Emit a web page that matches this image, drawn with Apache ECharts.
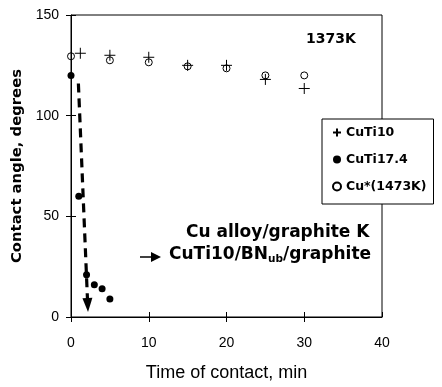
<!DOCTYPE html>
<html>
<head>
<meta charset="utf-8">
<script src="https://cdn.jsdelivr.net/npm/echarts@6/dist/echarts.min.js"></script>
<style>
html,body{margin:0;padding:0;background:#fff;}
#chart{width:442px;height:387px;}
</style>
</head>
<body>
<div id="chart"></div>
<script>
// ---- data ----
var cuti10X = [1.2, 5, 10, 15, 20, 25, 30];
var cuti10Y = [131, 130, 129, 125, 125, 118, 113.5];
var cuti174X = [0, 1, 2, 3, 4, 5];
var cuti174Y = [120, 60, 21, 16, 14, 9];
var cuX = [0, 5, 10, 15, 20, 25, 30];
var cuY = [129.5, 127.5, 126.5, 124.5, 123.5, 120, 120];
var arrowFrom = [0.95, 116];
var arrowTo = [2.15, 6];
var xTicks = [0, 10, 20, 30, 40];
var xOuterTicks = [0, 10, 20, 30];
var yTicks = [0, 50, 100, 150];
var seriesNames = ['CuTi10', 'CuTi17.4', 'Cu*(1473K)'];

function pairs(xs, ys){ return xs.map(function(x,i){ return [x, ys[i]]; }); }

var chart = echarts.init(document.getElementById('chart'), null, {renderer:'canvas'});
var tickFont = {fontFamily:'Liberation Sans, Arial, sans-serif', fontSize:14, color:'#000'};
var boldFont = 'DejaVu Sans, sans-serif';
var plusPath = 'path://M0,5L10,5M5,0L5,10';

var option = {
  animation:false,
  backgroundColor:'#fff',
  grid:{left:71, right:60, top:15, bottom:64, show:true, borderColor:'#000', borderWidth:1, backgroundColor:'transparent'},
  xAxis:[{
    type:'value', min:xTicks[0], max:xTicks[xTicks.length-1], interval:10,
    position:'bottom',
    axisLine:{show:true, onZero:false, lineStyle:{color:'#000', width:1}},
    axisTick:{show:true, inside:false, length:5, customValues:xOuterTicks, lineStyle:{color:'#000'}},
    axisLabel:Object.assign({margin:19}, tickFont),
    splitLine:{show:false},
    name:'Time of contact, min', nameLocation:'middle', nameGap:47,
    nameTextStyle:{fontFamily:'Liberation Sans, Arial, sans-serif', fontSize:18, color:'#000'}
  },{
    type:'value', min:xTicks[0], max:xTicks[xTicks.length-1], interval:10,
    position:'bottom',
    axisLine:{show:false}, axisLabel:{show:false}, splitLine:{show:false},
    axisTick:{show:true, inside:true, length:5, lineStyle:{color:'#000'}}
  }],
  yAxis:[{
    type:'value', min:yTicks[0], max:yTicks[yTicks.length-1], interval:50,
    position:'left',
    axisLine:{show:true, onZero:false, lineStyle:{color:'#000', width:1}},
    axisTick:{show:true, inside:false, length:5, lineStyle:{color:'#000'}},
    axisLabel:Object.assign({margin:12}, tickFont),
    splitLine:{show:false},
    name:'Contact angle, degrees', nameLocation:'middle', nameGap:44,
    nameTextStyle:{fontFamily:boldFont, fontWeight:'bold', fontSize:14.8, color:'#000'}
  },{
    type:'value', min:yTicks[0], max:yTicks[yTicks.length-1], interval:50,
    position:'left',
    axisLine:{show:false}, axisLabel:{show:false}, splitLine:{show:false},
    axisTick:{show:true, inside:true, length:5, lineStyle:{color:'#000'}}
  }],
  legend:{
    show:true, orient:'vertical', left:322, top:119,
    padding:[7,7,11,10], itemGap:14, itemWidth:8, itemHeight:8,
    borderColor:'#000', borderWidth:1, backgroundColor:'#fff',
    textStyle:{fontFamily:boldFont, fontWeight:'bold', fontSize:12.5, color:'#000'},
    data:seriesNames
  },
  series:[{
    name:seriesNames[0], type:'scatter', symbol:plusPath, symbolSize:11,
    itemStyle:{color:'transparent', borderColor:'#000', borderWidth:1, opacity:1},
    data:pairs(cuti10X, cuti10Y), silent:true, z:3
  },{
    name:seriesNames[1], type:'scatter', symbol:'circle', symbolSize:7,
    itemStyle:{color:'#000', borderColor:'#000', borderWidth:0, opacity:1},
    data:pairs(cuti174X, cuti174Y), silent:true, z:4,
    markLine:{
      silent:true, symbol:['none','triangle'], symbolSize:[10,14],
      label:{show:false}, emphasis:{disabled:true},
      lineStyle:{type:[9,6], width:3.2, color:'#000', opacity:1},
      data:[[{coord:arrowFrom},{coord:arrowTo}]]
    }
  },{
    name:seriesNames[2], type:'scatter', symbol:'circle', symbolSize:7,
    itemStyle:{color:'transparent', borderColor:'#000', borderWidth:1, opacity:1},
    data:pairs(cuX, cuY), silent:true, z:3
  }],
  graphic:[
    {type:'text', left:306, top:32, style:{text:'1373K', font:'bold 14px DejaVu Sans', fill:'#000'}},
    {type:'text', left:186, top:224, style:{text:'Cu alloy/graphite K', font:'bold 17px DejaVu Sans', fill:'#000'}},
    {type:'text', left:169, top:246, style:{
      text:'{a|CuTi10/BN}{s|ub}{a|/graphite}',
      rich:{
        a:{fontFamily:boldFont, fontWeight:'bold', fontSize:17, lineHeight:20, color:'#000'},
        s:{fontFamily:boldFont, fontWeight:'bold', fontSize:10.5, lineHeight:10, verticalAlign:'bottom', color:'#000'}
      }
    }},
    {type:'line', shape:{x1:140, y1:257, x2:152, y2:257}, style:{stroke:'#000', lineWidth:1.5}},
    {type:'polygon', shape:{points:[[151,252],[161,257],[151,262]]}, style:{fill:'#000'}}
  ]
};
chart.setOption(option);
</script>
</body>
</html>
